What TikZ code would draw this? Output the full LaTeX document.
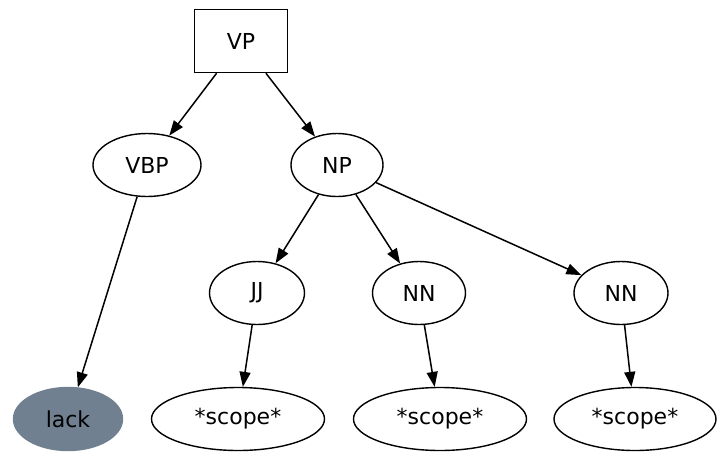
\documentclass[tikz,border=0pt]{standalone}
\usepackage{fontspec}
\setmainfont{DejaVu Sans}
\usetikzlibrary{shapes.geometric,arrows.meta}
\definecolor{slate}{HTML}{708090}
\tikzset{
  tnode/.style={draw, ellipse, line width=1.4pt, inner sep=0pt, minimum height=63pt, font=\fontsize{22}{26}\selectfont},
  box/.style={draw, rectangle, line width=1.4pt, inner sep=0pt, minimum width=93pt, minimum height=63pt, font=\fontsize{22}{26}\selectfont},
  edge/.style={line width=1.5pt, -{Triangle[length=15pt,width=11pt]}}
}
\begin{document}
\begin{tikzpicture}[x=1pt,y=-1pt]
\useasboundingbox (0,0) rectangle (718,451);
\node[box] (vp) at (241,41) {VP};
\node[tnode, minimum width=108pt] (vbp) at (147,165) {VBP};
\node[tnode, minimum width=92pt] (np) at (337,165) {NP};
\node[tnode, minimum width=95pt] (jj) at (257,293) {JJ};
\node[tnode, minimum width=93pt] (nn1) at (419,293) {NN};
\node[tnode, minimum width=94pt] (nn2) at (621,293) {NN};
\node[tnode, minimum width=109pt, fill=slate, draw=slate] (lack) at (68,419) {lack};
\node[tnode, minimum width=173pt] (s1) at (238,419) {*scope*};
\node[tnode, minimum width=173pt] (s2) at (440,419) {*scope*};
\node[tnode, minimum width=162pt] (s3) at (635,419) {*scope*};
\draw[edge] (vp) -- (vbp);
\draw[edge] (vp) -- (np);
\draw[edge] (vbp) -- (lack);
\draw[edge] (np) -- (jj);
\draw[edge] (np) -- (nn1);
\draw[edge] (np) -- (nn2);
\draw[edge] (jj) -- (s1);
\draw[edge] (nn1) -- (s2);
\draw[edge] (nn2) -- (s3);
\end{tikzpicture}
\end{document}
